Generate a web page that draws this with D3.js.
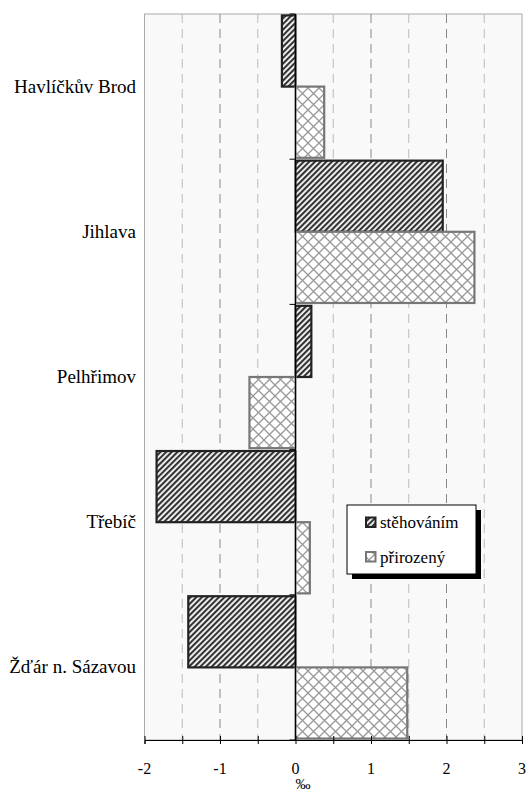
<!DOCTYPE html>
<html>
<head>
<meta charset="utf-8">
<script src="https://cdn.jsdelivr.net/npm/d3@7"></script>
<style>
body { margin: 0; background: #fff; }
</style>
</head>
<body>
<script>
let categories = ["Havlíčkův Brod", "Jihlava", "Pelhřimov", "Třebíč", "Žďár n. Sázavou"];
let seriesNames = ["stěhováním", "přirozený"];
let stehovanim = [-0.18, 1.95, 0.21, -1.84, -1.42];
let prirozeny = [0.38, 2.37, -0.61, 0.19, 1.48];
let xTicks = [-2, -1, 0, 1, 2, 3];

let w = 528;
let h = 791;
let plotLeft = 144.5, plotRight = 522, plotTop = 14, plotBottom = 740;
let serif = "Liberation Serif";

const svg = d3.select("body")
  .append("svg")
  .attr("width", w)
  .attr("height", h);

const defs = svg.append("defs");
let p1 = defs.append("pattern")
  .attr("id", "stripes")
  .attr("patternUnits", "userSpaceOnUse")
  .attr("width", 4).attr("height", 4)
  .attr("patternTransform", "rotate(45)");
p1.append("rect").attr("width", 4).attr("height", 4).attr("fill", "#fff");
p1.append("rect").attr("width", 2.2).attr("height", 4).attr("fill", "#333");

let p2 = defs.append("pattern")
  .attr("id", "cross")
  .attr("patternUnits", "userSpaceOnUse")
  .attr("width", 11).attr("height", 11);
p2.append("rect").attr("width", 11).attr("height", 11).attr("fill", "#fff");
p2.append("path").attr("d", "M0,0L11,11M11,0L0,11").attr("stroke", "#999").attr("stroke-width", 1.3);

let x = d3.scaleLinear().domain([-2, 3]).range([plotLeft, plotRight]);
let y = d3.scaleBand().domain(categories).range([plotTop, plotBottom]);
let inner = d3.scaleBand().domain(seriesNames).range([0, y.bandwidth()]).paddingOuter(0.02);

// plot background
svg.append("rect")
  .attr("x", plotLeft).attr("y", plotTop)
  .attr("width", plotRight - plotLeft).attr("height", plotBottom - plotTop)
  .attr("fill", "#f9f9f9")
  .attr("stroke", "#aaa");

// grid
let gridVals = d3.range(-1.5, 3, 0.5);
svg.append("g").selectAll("line")
  .data(gridVals.filter(d => d !== 0))
  .enter()
  .append("line")
  .attr("x1", d => x(d)).attr("x2", d => x(d))
  .attr("y1", plotTop).attr("y2", plotBottom)
  .attr("stroke", d => Number.isInteger(d) ? "#888" : "#bbb")
  .attr("stroke-dasharray", "9,6");

// bars
let series = [
  { name: seriesNames[0], values: stehovanim, fill: "url(#stripes)", stroke: "#222" },
  { name: seriesNames[1], values: prirozeny, fill: "url(#cross)", stroke: "#777" }
];
series.forEach(s => {
  svg.append("g").selectAll("rect")
    .data(categories)
    .enter()
    .append("rect")
    .attr("x", (c, i) => x(Math.min(0, s.values[i])))
    .attr("y", c => y(c) + inner(s.name))
    .attr("width", (c, i) => Math.abs(x(s.values[i]) - x(0)))
    .attr("height", inner.bandwidth())
    .attr("fill", s.fill)
    .attr("stroke", s.stroke)
    .attr("stroke-width", 2.2);
});

// vertical zero axis with category ticks
svg.append("line")
  .attr("x1", x(0)).attr("x2", x(0))
  .attr("y1", plotTop).attr("y2", plotBottom)
  .attr("stroke", "#000").attr("stroke-width", 1);
svg.append("g").selectAll("line")
  .data(d3.range(categories.length + 1))
  .enter()
  .append("line")
  .attr("x1", x(0) - 6).attr("x2", x(0))
  .attr("y1", i => plotTop + i * y.step()).attr("y2", i => plotTop + i * y.step())
  .attr("stroke", "#000");

// category labels
svg.append("g").selectAll("text")
  .data(categories)
  .enter()
  .append("text")
  .attr("x", 136)
  .attr("y", c => y(c) + y.bandwidth() / 2 + 6)
  .attr("text-anchor", "end")
  .attr("font-family", serif)
  .attr("font-size", 19)
  .text(c => c);

// x axis
let xAxis = svg.append("g")
  .attr("transform", "translate(0," + plotBottom + ")")
  .call(d3.axisBottom(x).tickValues(d3.range(-2, 3.5, 0.5)).tickSize(4).tickFormat(""));
xAxis.select(".domain").attr("stroke", "#000");
xAxis.selectAll(".tick line").attr("y1", -4).attr("y2", 4).attr("stroke", "#000");

svg.append("g").selectAll("text")
  .data(xTicks)
  .enter()
  .append("text")
  .attr("x", d => x(d))
  .attr("y", 774)
  .attr("text-anchor", "middle")
  .attr("font-family", serif)
  .attr("font-size", 16)
  .text(d => d);

svg.append("text")
  .attr("x", 303)
  .attr("y", 789)
  .attr("text-anchor", "middle")
  .attr("font-family", serif)
  .attr("font-size", 15)
  .text("‰");

// legend
let lg = svg.append("g").attr("transform", "translate(347,505)");
lg.append("rect").attr("x", 5).attr("y", 5).attr("width", 129).attr("height", 69).attr("fill", "#000");
lg.append("rect").attr("width", 129).attr("height", 69).attr("fill", "#fff").attr("stroke", "#000");
series.forEach((s, i) => {
  lg.append("rect")
    .attr("x", 19).attr("y", 12.5 + i * 34.5)
    .attr("width", 9.5).attr("height", 9.5)
    .attr("fill", s.fill).attr("stroke", s.stroke).attr("stroke-width", 2);
  lg.append("text")
    .attr("x", 33).attr("y", 23 + i * 35)
    .attr("font-family", serif)
    .attr("font-size", 17)
    .text(s.name);
});
</script>
</body>
</html>
